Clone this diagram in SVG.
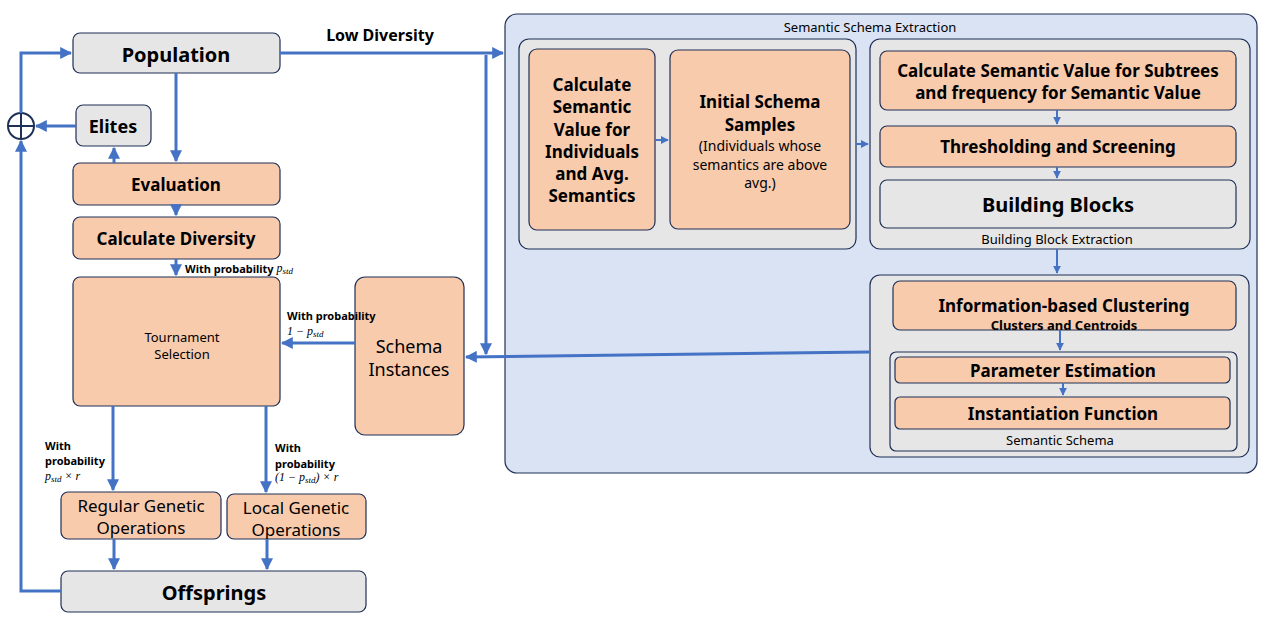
<svg xmlns="http://www.w3.org/2000/svg" width="1268" height="640" viewBox="0 0 1268 640">
<defs>
<marker id="ah" viewBox="0 0 10 10" refX="9" refY="5" markerWidth="4" markerHeight="4" orient="auto" markerUnits="strokeWidth">
<path d="M0,0 L10,5 L0,10 z" fill="#4472c4"/>
</marker>
<style>
.o{fill:#f8cbad;stroke:#1f3057;stroke-width:1.2}
.g{fill:#e7e6e6;stroke:#1f3057;stroke-width:1.2}
.b{fill:#dae3f3;stroke:#1f3057;stroke-width:1.2}
.c{fill:none;stroke:#4472c4;stroke-width:3}
.cs{fill:none;stroke:#4472c4;stroke-width:2}
text{font-family:"Noto Sans","Open Sans","Liberation Sans",sans-serif;fill:#000;text-anchor:middle;dominant-baseline:central}
.t{font-size:18px;font-weight:bold}
.tl{font-size:20px;font-weight:bold}
.tm{font-size:17px;font-weight:bold}
.s{font-size:13px;font-weight:bold}
.sm{font-size:11px;font-weight:bold;text-anchor:start}
.r{font-size:14px}
.m{font-family:"Liberation Serif","DejaVu Serif",serif;font-style:italic;font-size:12px;text-anchor:start}
</style>
</defs>

<g id="schema-extraction">
<rect class="b" x="505" y="14" width="752" height="459" rx="12"/>
<text class="s" x="870" y="27" style="font-weight:normal;font-size:13px">Semantic Schema Extraction</text>
</g>
<g id="semantic-group">
<rect class="g" x="519" y="39" width="337" height="210" rx="10"/>
</g>
<g id="bbe-group">
<rect class="g" x="870" y="39" width="380" height="210" rx="10"/>
<text x="1057" y="239" style="font-size:13px">Building Block Extraction</text>
</g>
<g id="clustering-group">
<rect class="g" x="870" y="275" width="379" height="182" rx="10"/>
</g>
<g id="semantic-schema-group">
<rect class="g" x="890" y="352" width="347" height="99" rx="6"/>
<text x="1060" y="440" style="font-size:13px">Semantic Schema</text>
</g>

<g id="population">
<rect class="g" x="73" y="33" width="207" height="40" rx="7"/>
<text class="tl" x="176" y="54">Population</text>
</g>
<g id="elites">
<rect class="g" x="76" y="105" width="75" height="41" rx="7"/>
<text class="t" x="113" y="126">Elites</text>
</g>
<g id="plus">
<circle cx="21" cy="126" r="13" fill="#fff" stroke="#1f3057" stroke-width="2"/>
<path d="M8,126 H34 M21,113 V139" stroke="#1f3057" stroke-width="2"/>
</g>
<g id="evaluation">
<rect class="o" x="73" y="163" width="207" height="42" rx="7"/>
<text class="tm" x="176" y="184">Evaluation</text>
</g>
<g id="calc-diversity">
<rect class="o" x="73" y="217" width="207" height="42" rx="7"/>
<text class="tm" x="176" y="238">Calculate Diversity</text>
</g>
<g id="tournament">
<rect class="o" x="73" y="277" width="207" height="129" rx="7"/>
<text x="182" y="337" style="font-size:13px">Tournament</text>
<text x="182" y="354" style="font-size:13px">Selection</text>
</g>
<g id="schema-instances">
<rect class="o" x="355" y="277" width="109" height="158" rx="10"/>
<text class="tm" x="409" y="346" style="font-weight:normal;font-size:18px">Schema</text>
<text class="tm" x="409" y="369" style="font-weight:normal;font-size:18px">Instances</text>
</g>
<g id="regular-ops">
<rect class="o" x="61" y="492" width="160" height="47" rx="7"/>
<text x="141" y="505" style="font-size:17px">Regular Genetic</text>
<text x="141" y="527" style="font-size:17px">Operations</text>
</g>
<g id="local-ops">
<rect class="o" x="227" y="494" width="139" height="45" rx="7"/>
<text x="296" y="507" style="font-size:17px">Local Genetic</text>
<text x="296" y="529" style="font-size:17px">Operations</text>
</g>
<g id="offsprings">
<rect class="g" x="61" y="571" width="305" height="41" rx="7"/>
<text class="tl" x="214" y="592">Offsprings</text>
</g>

<g id="calc-semantic">
<rect class="o" x="529" y="49" width="126" height="181" rx="8"/>
<text class="tm" x="592" y="84">Calculate</text>
<text class="tm" x="592" y="106">Semantic</text>
<text class="tm" x="592" y="129">Value for</text>
<text class="tm" x="592" y="151">Individuals</text>
<text class="tm" x="592" y="173">and Avg.</text>
<text class="tm" x="592" y="195">Semantics</text>
</g>
<g id="initial-schema">
<rect class="o" x="670" y="50" width="180" height="179" rx="8"/>
<text class="tm" x="760" y="101">Initial Schema</text>
<text class="tm" x="760" y="124">Samples</text>
<text class="r" x="760" y="145">(Individuals whose</text>
<text class="r" x="760" y="164">semantics are above</text>
<text class="r" x="760" y="182">avg.)</text>
</g>
<g id="calc-subtrees">
<rect class="o" x="880" y="51" width="356" height="59" rx="7"/>
<text class="tm" x="1058" y="70">Calculate Semantic Value for Subtrees</text>
<text class="tm" x="1058" y="92">and frequency for Semantic Value</text>
</g>
<g id="thresholding">
<rect class="o" x="880" y="126" width="356" height="41" rx="7"/>
<text class="tm" x="1058" y="146">Thresholding and Screening</text>
</g>
<g id="building-blocks">
<rect class="g" x="880" y="180" width="356" height="48" rx="7"/>
<text class="tl" x="1058" y="204" style="font-size:20px">Building Blocks</text>
</g>
<g id="info-clustering">
<rect class="o" x="893" y="281" width="343" height="49" rx="7"/>
<text class="tm" x="1064" y="305">Information-based Clustering</text>
<text x="1064" y="325" style="font-size:13px;font-weight:bold">Clusters and Centroids</text>
</g>
<g id="param-estimation">
<rect class="o" x="895" y="357" width="335" height="26" rx="5"/>
<text class="tm" x="1063" y="370">Parameter Estimation</text>
</g>
<g id="instantiation">
<rect class="o" x="895" y="397" width="335" height="32" rx="5"/>
<text class="tm" x="1063" y="413">Instantiation Function</text>
</g>

<g id="connectors">
<path class="c" d="M61,591 H21 V141" marker-end="url(#ah)"/>
<path class="c" d="M21,113 V53 H71" marker-end="url(#ah)"/>
<path class="c" d="M76,126 H36" marker-end="url(#ah)"/>
<path class="c" d="M176,73 V161" marker-end="url(#ah)"/>
<path class="c" d="M114,163 V148" marker-end="url(#ah)"/>
<path class="c" d="M176,205 V215" marker-end="url(#ah)"/>
<path class="c" d="M176,259 V275" marker-end="url(#ah)"/>
<path class="c" d="M355,343 H282" marker-end="url(#ah)"/>
<path class="c" d="M113,406 V490" marker-end="url(#ah)"/>
<path class="c" d="M266,406 V492" marker-end="url(#ah)"/>
<path class="c" d="M114,539 V569" marker-end="url(#ah)"/>
<path class="c" d="M267,539 V569" marker-end="url(#ah)"/>
<path class="c" d="M280,53 H503" marker-end="url(#ah)"/>
<path class="c" d="M486,55 V354" marker-end="url(#ah)"/>
<path class="c" d="M870,352 L466,357" marker-end="url(#ah)"/>
<path class="cs" d="M655,140 H668" marker-end="url(#ah)"/>
<path class="cs" d="M856,144 H868" marker-end="url(#ah)"/>
<path class="cs" d="M1057,110 V124" marker-end="url(#ah)"/>
<path class="cs" d="M1057,167 V178" marker-end="url(#ah)"/>
<path class="cs" d="M1057,249 V273" marker-end="url(#ah)"/>
<path class="cs" d="M1060,330 V350" marker-end="url(#ah)"/>
<path class="cs" d="M1063,383 V395" marker-end="url(#ah)"/>
<text x="380" y="35" style="font-size:16px;font-weight:bold">Low Diversity</text>
<text class="sm" x="185" y="268">With probability <tspan class="m" style="font-weight:normal">p<tspan font-size="9" dy="3">std</tspan></tspan></text>
<text class="sm" x="287" y="315">With probability</text>
<text class="m" x="287" y="331">1 − p<tspan font-size="9" dy="3">std</tspan></text>
<text class="sm" x="45" y="445">With</text>
<text class="sm" x="45" y="460">probability</text>
<text class="m" x="45" y="476">p<tspan font-size="9" dy="3">std</tspan><tspan dy="-3"> × r</tspan></text>
<text class="sm" x="275" y="447">With</text>
<text class="sm" x="275" y="463">probability</text>
<text class="m" x="275" y="477">(1 − p<tspan font-size="9" dy="3">std</tspan><tspan dy="-3">) × r</tspan></text>
</g>
</svg>
